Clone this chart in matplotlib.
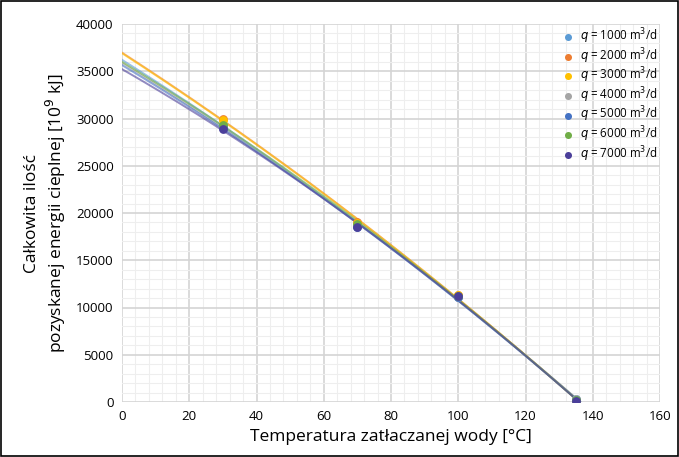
import matplotlib.pyplot as plt
import numpy as np

plt.rcParams["font.family"] = ["Open Sans", "DejaVu Sans"]

temps = [30, 70, 100, 135]
q_labels = ["1000", "2000", "3000", "4000", "5000", "6000", "7000"]
energy = {
    "1000": [29300, 18700, 11100, 300],
    "2000": [29900, 19000, 11300, 200],
    "3000": [29850, 18950, 11300, 200],
    "4000": [29100, 18600, 11100, 300],
    "5000": [29000, 18550, 11100, 200],
    "6000": [29300, 18800, 11200, 200],
    "7000": [28850, 18480, 11250, 150],
}
colors = ["#5B9BD5", "#ED7D31", "#FFC000", "#A5A5A5", "#4472C4", "#70AD47", "#4B3F9A"]

fig = plt.figure(figsize=(6.79, 4.57), dpi=100)
fig.patches.append(plt.Rectangle((0.002, 0.002), 0.996, 0.996, transform=fig.transFigure,
                                 fill=False, edgecolor="black", linewidth=1.2))
ax = fig.add_axes([122 / 679, 1 - 402 / 457, 538 / 679, 378 / 457])

xx = np.linspace(0, 138, 200)
for lab, c in zip(q_labels, colors):
    y = energy[lab]
    # excel-like 2nd order trendline
    p = np.polyfit(temps, y, 2)
    ax.plot(xx, np.polyval(p, xx), color=c, lw=1.4, alpha=0.6, zorder=2)
for lab, c in zip(q_labels, colors):
    ax.scatter(temps, energy[lab], color=c, s=40, zorder=3, linewidths=0,
               label=r"$q$ = " + lab + r" m$^3$/d")

ax.set_xlim(0, 160)
ax.set_ylim(0, 40000)
ax.set_xticks(np.arange(0, 161, 20))
ax.set_yticks(np.arange(0, 40001, 5000))
ax.set_xticks(np.arange(0, 161, 4), minor=True)
ax.set_yticks(np.arange(0, 40001, 1000), minor=True)
ax.grid(which="major", color="#d4d4d4", lw=1.2)
ax.grid(which="minor", color="#eeeeee", lw=0.8)
ax.set_axisbelow(True)
ax.tick_params(which="both", length=0, labelsize=9.5, pad=6)
for s in ax.spines.values():
    s.set_visible(False)

ax.set_xlabel("Temperatura zatłaczanej wody [°C]", fontsize=12.5, labelpad=4)
ax.set_ylabel("Całkowita ilość\npozyskanej energii cieplnej [10$^9$ kJ]", fontsize=12.5, labelpad=6)

ax.legend(loc="upper right", frameon=False, fontsize=8.3, handletextpad=0.0,
          markerscale=0.8, labelspacing=0.0, borderaxespad=0.0, borderpad=0.2,
          bbox_to_anchor=(1.0, 1.0))

fig.savefig("out.png", dpi=100)
